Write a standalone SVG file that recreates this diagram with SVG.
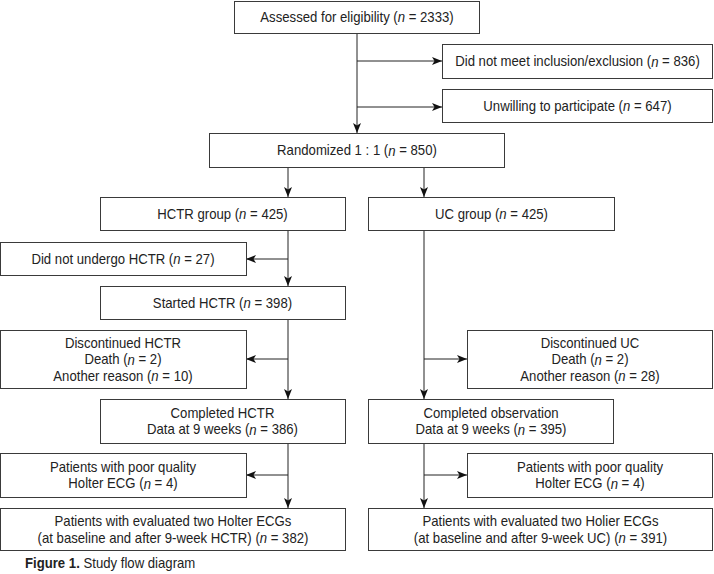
<svg xmlns="http://www.w3.org/2000/svg" width="714" height="574" viewBox="0 0 714 574">
<style>
  .box { fill: #fff; stroke: #3a3a3a; stroke-width: 1; }
  .t { font-family: "Liberation Sans", Arial, sans-serif; font-size: 14px; fill: #222; text-anchor: middle; dominant-baseline: central; }
  .i { font-style: italic; }
  .c { fill: none; stroke: #222; stroke-width: 1; }
  .cap { font-family: "Liberation Sans", Arial, sans-serif; font-size: 14px; fill: #222; }
</style>
<defs>
  <marker id="ah" markerUnits="userSpaceOnUse" markerWidth="10" markerHeight="8" refX="10" refY="4" orient="auto">
    <path d="M0,0 L10,4 L0,8 L2.5,4 z" fill="#111"/>
  </marker>
</defs>
<rect width="714" height="574" fill="#fff"/>
<g id="connectors">
  <path class="c" d="M357,33 V133" marker-end="url(#ah)"/>
  <path class="c" d="M357,61 H442" marker-end="url(#ah)"/>
  <path class="c" d="M357,107 H442" marker-end="url(#ah)"/>
  <path class="c" d="M288,167 V197" marker-end="url(#ah)"/>
  <path class="c" d="M424,167 V197" marker-end="url(#ah)"/>
  <path class="c" d="M288,231 V286" marker-end="url(#ah)"/>
  <path class="c" d="M288,259 H246" marker-end="url(#ah)"/>
  <path class="c" d="M288,320 V399" marker-end="url(#ah)"/>
  <path class="c" d="M288,359 H246" marker-end="url(#ah)"/>
  <path class="c" d="M288,443 V508" marker-end="url(#ah)"/>
  <path class="c" d="M288,475 H246" marker-end="url(#ah)"/>
  <path class="c" d="M424,231 V399" marker-end="url(#ah)"/>
  <path class="c" d="M424,359 H467" marker-end="url(#ah)"/>
  <path class="c" d="M424,443 V508" marker-end="url(#ah)"/>
  <path class="c" d="M424,475 H467" marker-end="url(#ah)"/>
</g>
<g id="assessed">
  <rect class="box" x="234.5" y="1.5" width="245" height="32"/>
  <text class="t" transform="translate(357,17) scale(0.94,1)">Assessed for eligibility (<tspan class="i">n</tspan> = 2333)</text>
</g>
<g id="notmeet">
  <rect class="box" x="442.5" y="44.5" width="270" height="34"/>
  <text class="t" transform="translate(577.5,61.5) scale(0.94,1)">Did not meet inclusion/exclusion (<tspan class="i">n</tspan> = 836)</text>
</g>
<g id="unwilling">
  <rect class="box" x="442.5" y="89.5" width="270" height="33"/>
  <text class="t" transform="translate(577.5,106) scale(0.94,1)">Unwilling to participate (<tspan class="i">n</tspan> = 647)</text>
</g>
<g id="randomized">
  <rect class="box" x="209.5" y="133.5" width="295" height="34"/>
  <text class="t" transform="translate(357,150.5) scale(0.94,1)">Randomized 1 : 1 (<tspan class="i">n</tspan> = 850)</text>
</g>
<g id="hctr-group">
  <rect class="box" x="100.5" y="197.5" width="245" height="33"/>
  <text class="t" transform="translate(222.5,214) scale(0.94,1)">HCTR group (<tspan class="i">n</tspan> = 425)</text>
</g>
<g id="uc-group">
  <rect class="box" x="368.5" y="197.5" width="246" height="33"/>
  <text class="t" transform="translate(491.5,214) scale(0.94,1)">UC group (<tspan class="i">n</tspan> = 425)</text>
</g>
<g id="not-undergo">
  <rect class="box" x="0.5" y="242.5" width="246" height="33"/>
  <text class="t" transform="translate(123,259) scale(0.94,1)">Did not undergo HCTR (<tspan class="i">n</tspan> = 27)</text>
</g>
<g id="started">
  <rect class="box" x="100.5" y="286.5" width="245" height="33"/>
  <text class="t" transform="translate(222.5,303) scale(0.94,1)">Started HCTR (<tspan class="i">n</tspan> = 398)</text>
</g>
<g id="disc-hctr">
  <rect class="box" x="0.5" y="330.5" width="246" height="58"/>
  <text class="t" transform="translate(123,343) scale(0.94,1)">Discontinued HCTR</text>
  <text class="t" transform="translate(123,359.5) scale(0.94,1)">Death (<tspan class="i">n</tspan> = 2)</text>
  <text class="t" transform="translate(123,376) scale(0.94,1)">Another reason (<tspan class="i">n</tspan> = 10)</text>
</g>
<g id="disc-uc">
  <rect class="box" x="467.5" y="330.5" width="245" height="58"/>
  <text class="t" transform="translate(590,343) scale(0.94,1)">Discontinued UC</text>
  <text class="t" transform="translate(590,359.5) scale(0.94,1)">Death (<tspan class="i">n</tspan> = 2)</text>
  <text class="t" transform="translate(590,376) scale(0.94,1)">Another reason (<tspan class="i">n</tspan> = 28)</text>
</g>
<g id="completed-hctr">
  <rect class="box" x="100.5" y="399.5" width="245" height="44"/>
  <text class="t" transform="translate(222.5,413.5) scale(0.94,1)">Completed HCTR</text>
  <text class="t" transform="translate(222.5,429.5) scale(0.94,1)">Data at 9 weeks (<tspan class="i">n</tspan> = 386)</text>
</g>
<g id="completed-obs">
  <rect class="box" x="368.5" y="399.5" width="245" height="44"/>
  <text class="t" transform="translate(491,413.5) scale(0.94,1)">Completed observation</text>
  <text class="t" transform="translate(491,429.5) scale(0.94,1)">Data at 9 weeks (<tspan class="i">n</tspan> = 395)</text>
</g>
<g id="poor-hctr">
  <rect class="box" x="0.5" y="453.5" width="246" height="44"/>
  <text class="t" transform="translate(123,467) scale(0.94,1)">Patients with poor quality</text>
  <text class="t" transform="translate(123,483.5) scale(0.94,1)">Holter ECG (<tspan class="i">n</tspan> = 4)</text>
</g>
<g id="poor-uc">
  <rect class="box" x="467.5" y="453.5" width="245" height="44"/>
  <text class="t" transform="translate(590,467) scale(0.94,1)">Patients with poor quality</text>
  <text class="t" transform="translate(590,483.5) scale(0.94,1)">Holter ECG (<tspan class="i">n</tspan> = 4)</text>
</g>
<g id="eval-hctr">
  <rect class="box" x="0.5" y="508.5" width="345" height="42"/>
  <text class="t" transform="translate(173,521.5) scale(0.94,1)">Patients with evaluated two Holter ECGs</text>
  <text class="t" transform="translate(173,538) scale(0.94,1)">(at baseline and after 9-week HCTR) (<tspan class="i">n</tspan> = 382)</text>
</g>
<g id="eval-uc">
  <rect class="box" x="368.5" y="508.5" width="344" height="42"/>
  <text class="t" transform="translate(540.5,521.5) scale(0.94,1)">Patients with evaluated two Holier ECGs</text>
  <text class="t" transform="translate(540.5,538) scale(0.94,1)">(at baseline and after 9-week UC) (<tspan class="i">n</tspan> = 391)</text>
</g>
<text class="cap" transform="translate(25,568) scale(0.94,1)"><tspan font-weight="bold">Figure 1.</tspan> Study flow diagram</text>
</svg>
